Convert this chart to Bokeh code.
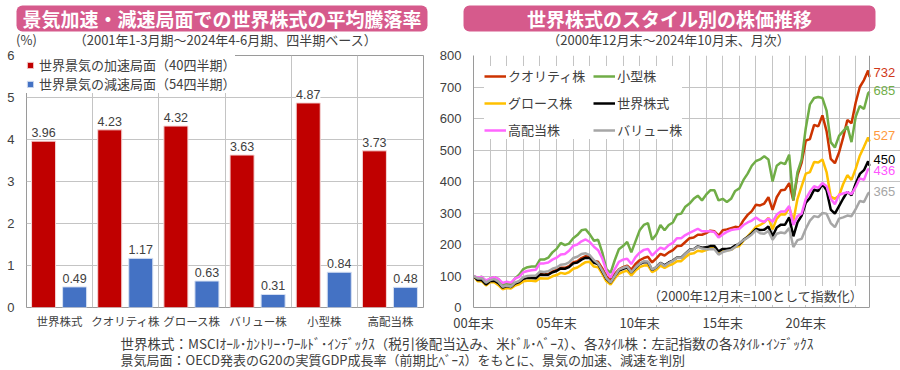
from bokeh.plotting import figure
from bokeh.models import (Range1d, FixedTicker, ColumnDataSource, LabelSet, Label,
                          BoxAnnotation, Legend, LegendItem, Span)
from bokeh.core.properties import value
from bokeh.layouts import row, column
from bokeh.embed import file_html
from bokeh.resources import INLINE

# ---------------- data: left chart ----------------
categories = ["世界株式", "クオリティ株", "グロース株", "バリュー株", "小型株", "高配当株"]
accel = [3.96, 4.23, 4.32, 3.63, 4.87, 3.73]
decel = [0.49, 1.17, 0.63, 0.31, 0.84, 0.48]
accel_name = "世界景気の加速局面（40四半期）"
decel_name = "世界景気の減速局面（54四半期）"

# ---------------- data: right chart (quarter ends, Dec 2000 = 100) ----------------
dates = ["2000-12"] + [f"{y}-{m:02d}" for y in range(2001, 2025) for m in (3, 6, 9, 12)
                       if not (y == 2024 and m == 12)] + ["2024-10"]

quality = [100,
    89, 89, 76, 86,  87, 79, 66, 70,  67, 77, 82, 92,  95, 95, 94, 106,
    105, 106, 114, 119,  126, 126, 131, 143,  147, 157, 163, 162,  148, 145, 124, 99,
    87, 106, 121, 128,  133, 120, 138, 150,  157, 161, 143, 156,  170, 165, 175, 182,
    195, 196, 208, 220,  222, 231, 231, 236,  244, 242, 228, 245,  248, 252, 256, 254,
    277, 294, 306, 326,  324, 330, 350, 310,  350, 372, 374, 395,  340, 420, 460, 530,
    535, 580, 575, 610,  560, 472, 458, 492,  540, 595, 585, 650,  700, 722, 752, 732]
small = [100,
    93, 98, 80, 92,  96, 90, 74, 77,  74, 92, 104, 122,  128, 130, 130, 152,
    152, 158, 175, 186,  205, 198, 203, 220,  230, 245, 248, 232,  212, 215, 175, 122,
    110, 150, 185, 195,  208, 175, 210, 245,  262, 268, 215, 232,  262, 245, 262, 270,
    295, 298, 320, 330,  345, 355, 340, 358,  372, 372, 340, 345,  335, 345, 370, 378,
    405, 425, 450, 465,  470, 480, 470, 400,  450, 460, 455, 485,  340, 430, 470, 570,
    645, 665, 668, 665,  625, 525, 508, 545,  560, 575, 525, 605,  640, 630, 680, 685]
growth = [100,
    83, 84, 70, 80,  80, 71, 58, 62,  60, 70, 74, 83,  85, 85, 83, 93,
    92, 92, 99, 103,  110, 107, 112, 123,  127, 136, 144, 145,  130, 128, 107, 83,
    73, 92, 107, 113,  117, 102, 117, 128,  133, 134, 112, 119,  133, 126, 133, 138,
    147, 147, 159, 170,  172, 180, 178, 182,  188, 189, 175, 184,  182, 183, 192, 195,
    212, 226, 240, 256,  262, 270, 285, 248,  282, 296, 295, 318,  275, 345, 385, 425,
    430, 462, 460, 470,  430, 352, 345, 355,  392, 420, 405, 440,  482, 510, 540, 527]
world = [100,
    87, 87, 73, 84,  85, 77, 63, 68,  65, 76, 81, 91,  94, 94, 93, 105,
    104, 104, 112, 116,  124, 123, 128, 140,  143, 152, 158, 157,  142, 138, 115, 91,
    79, 100, 117, 123,  127, 111, 126, 138,  144, 144, 119, 128,  142, 134, 143, 149,
    159, 158, 171, 183,  185, 194, 190, 191,  195, 195, 178, 186,  186, 188, 197, 201,
    215, 224, 235, 249,  246, 247, 257, 226,  254, 263, 263, 286,  226, 270, 292, 333,
    348, 374, 370, 392,  372, 311, 298, 322,  346, 367, 356, 393,  424, 436, 464, 450]
highdiv = [100,
    95, 97, 86, 92,  96, 91, 78, 82,  79, 92, 97, 112,  116, 118, 120, 140,
    140, 143, 152, 158,  168, 170, 180, 196,  200, 210, 216, 208,  193, 182, 156, 116,
    95, 122, 145, 152,  155, 138, 160, 174,  183, 186, 165, 178,  190, 185, 198, 205,
    220, 220, 230, 237,  243, 250, 242, 242,  242, 240, 222, 232,  240, 246, 248, 250,
    262, 270, 276, 286,  276, 272, 283, 272,  295, 305, 305, 322,  262, 290, 298, 345,
    368, 385, 380, 395,  385, 345, 328, 358,  362, 366, 360, 382,  410, 405, 440, 436]
value_st = [100,
    92, 93, 79, 87,  90, 82, 66, 70,  66, 79, 84, 96,  100, 101, 101, 114,
    113, 115, 123, 127,  136, 137, 143, 157,  161, 170, 172, 166,  150, 140, 118, 93,
    80, 100, 120, 126,  130, 112, 128, 139,  147, 146, 120, 128,  141, 132, 141, 148,
    158, 157, 170, 182,  185, 193, 187, 185,  185, 185, 168, 176,  180, 183, 192, 205,
    214, 222, 232, 245,  236, 234, 243, 215,  234, 238, 236, 252,  192, 214, 218, 250,
    276, 290, 287, 300,  298, 268, 255, 282,  286, 292, 290, 312,  338, 335, 362, 365]

series_names = ["クオリティ株", "小型株", "グロース株", "世界株式", "高配当株", "バリュー株"]
series_values = [quality, small, growth, world, highdiv, value_st]

# ---------------- styles ----------------
JP = "Noto Sans CJK JP"
NUM = "Liberation Sans"
PINK = "#D65A8C"
GRID = "#C4C4C4"
FRAME = "#9A9A9A"
TXT = "#404040"
RED = "#C00000"
BLUE = "#4472C4"
line_colors = ["#CC3300", "#70AD47", "#FFC000", "#000000", "#FF66FF", "#A6A6A6"]
label_colors = ["#D0381A", "#70AD47", "#FF9A3C", "#000000", "#FF55FF", "#A6A6A6"]
label_yoff = [4, 1, 6, 6, 0, 1]


def blank(width, height):
    f = figure(width=width, height=height, x_range=Range1d(0, 1), y_range=Range1d(0, 1),
               output_backend="svg", toolbar_location=None, title=None,
               x_axis_location=None, y_axis_location=None, min_border=0)
    f.outline_line_color = None
    f.grid.visible = False
    return f


def scr_label(p, x, y, text, size="13px", align="center", **kw):
    p.add_layout(Label(x=x, y=y, x_units="screen", y_units="screen", text=text,
                       text_align=align, text_baseline="middle", text_font=JP,
                       text_font_size=size, text_color=kw.pop("color", TXT), **kw))


def header(width, left, right, title, sub_x, subtitle, pct=False):
    h = blank(width, 48)
    h.add_layout(BoxAnnotation(left=left, right=right, bottom=17, top=43,
                               left_units="screen", right_units="screen",
                               bottom_units="screen", top_units="screen",
                               fill_color=PINK, fill_alpha=1.0, line_color=None,
                               border_radius=6))
    scr_label(h, (left + right) / 2, 30, title, size="19px", color="white",
              text_font_style="bold")
    if pct:
        scr_label(h, 26, 9, "(%)")
    scr_label(h, sub_x, 9, subtitle)
    return h


def style_axes(p):
    for ax in (p.xaxis[0], p.yaxis[0]):
        ax.axis_line_color = None
        ax.major_tick_line_color = None
        ax.minor_tick_line_color = None
        ax.major_tick_out = 0
        ax.major_tick_in = 0
        ax.major_label_text_color = TXT
    p.grid.grid_line_color = GRID
    p.grid.grid_line_width = 1


HL = header(435, 16, 427, "景気加速・減速局面での世界株式の平均騰落率", 225,
            "（2001年1-3月期～2024年4-6月期、四半期ベース）", pct=True)
HR = header(465, 28, 440, "世界株式のスタイル別の株価推移", 233,
            "（2000年12月末～2024年10月末、月次）")

# ---------------- left figure ----------------
L = figure(width=435, height=286, x_range=Range1d(0, len(categories)), y_range=Range1d(0, 6),
           output_backend="svg", toolbar_location=None, title=None,
           min_border_left=26, min_border_right=12, min_border_top=7, min_border_bottom=27)
style_axes(L)
L.outline_line_color = FRAME
centers = [i + 0.5 for i in range(len(categories))]
L.xaxis.ticker = FixedTicker(ticks=centers)
L.xaxis.major_label_overrides = {c: n for c, n in zip(centers, categories)}
L.xaxis.major_label_text_font = JP
L.xaxis.major_label_text_font_size = "11.5px"
L.xaxis.major_label_standoff = 5
L.yaxis.ticker = FixedTicker(ticks=list(range(0, 7)))
L.yaxis.major_label_text_font = NUM
L.yaxis.major_label_text_font_size = "13px"
L.yaxis.major_label_standoff = 12
L.xgrid.ticker = FixedTicker(ticks=list(range(1, len(categories))))
L.ygrid.ticker = FixedTicker(ticks=list(range(1, 6)))

bsrc = ColumnDataSource(dict(
    xa=[c - 0.242 for c in centers], xd=[c + 0.227 for c in centers],
    acc=accel, dec=decel,
    acc_t=[f"{v:.2f}" for v in accel], dec_t=[f"{v:.2f}" for v in decel]))
ra = L.vbar(x="xa", top="acc", width=0.363, source=bsrc, fill_color=RED, line_color="#F4D6D6", line_width=1)
rd = L.vbar(x="xd", top="dec", width=0.363, source=bsrc, fill_color=BLUE, line_color="#D6E0F2", line_width=1)
for xf, yf, tf in (("xa", "acc", "acc_t"), ("xd", "dec", "dec_t")):
    L.add_layout(LabelSet(x=xf, y=yf, text=tf, source=bsrc, y_offset=4,
                          text_align="center", text_baseline="bottom",
                          text_font=value(NUM), text_font_size="12.5px", text_color=TXT,
                          background_fill_color="white"))
lleg = Legend(items=[LegendItem(label=accel_name, renderers=[ra]),
                     LegendItem(label=decel_name, renderers=[rd])],
              location="top_left", margin=0, padding=4, spacing=0,
              glyph_width=8, glyph_height=8, label_standoff=5,
              label_text_font=JP, label_text_font_size="13px", label_text_color=TXT,
              background_fill_color="white", background_fill_alpha=1.0, border_line_color=None)
L.add_layout(lleg)

# ---------------- right figure ----------------
xvals = [int(d[:4]) + int(d[5:]) / 12 for d in dates]
x0, xN = xvals[0], xvals[-1]
x_end = x0 + (xN - x0) * 427 / 396   # leave room right of the data for the end labels
R = figure(width=465, height=286, x_range=Range1d(x0, x_end), y_range=Range1d(0, 800),
           output_backend="svg", toolbar_location=None, title=None,
           min_border_left=38, min_border_right=0, min_border_top=7, min_border_bottom=27)
style_axes(R)
R.outline_line_color = None
R.xaxis.axis_line_color = FRAME
R.yaxis.axis_line_color = FRAME
R.xaxis.bounds = (x0, xN)
five = [2001, 2006, 2011, 2016, 2021]
R.xaxis.ticker = FixedTicker(ticks=five)
R.xaxis.major_label_overrides = {t: f"{(t - 1) % 100:02d}年末" for t in five}
R.xaxis.major_label_text_font = JP
R.xaxis.major_label_text_font_size = "13px"
R.xaxis.major_label_standoff = 5
R.yaxis.ticker = FixedTicker(ticks=list(range(0, 801, 100)))
R.yaxis.major_label_text_font = NUM
R.yaxis.major_label_text_font_size = "13px"
R.yaxis.major_label_standoff = 12
R.xgrid.ticker = FixedTicker(ticks=list(range(2002, 2025)))
R.ygrid.ticker = FixedTicker(ticks=list(range(100, 801, 100)))
R.ygrid.bounds = (x0, xN)
R.add_layout(Span(location=xN, dimension="height", line_color=FRAME, line_width=1))

renderers = {}
for name, vals, col in zip(series_names, series_values, line_colors):
    renderers[name] = R.line(xvals, vals, line_color=col, line_width=2.5)

leg_order = ["クオリティ株", "グロース株", "高配当株", "小型株", "世界株式", "バリュー株"]
rleg = Legend(items=[LegendItem(label=n, renderers=[renderers[n]]) for n in leg_order],
              location="top_left", ncols=2, margin=11, padding=12, spacing=8,
              glyph_width=22, glyph_height=14, label_standoff=2,
              label_text_font=JP, label_text_font_size="13px", label_text_color=TXT,
              background_fill_color="white", background_fill_alpha=1.0, border_line_color=None)
R.add_layout(rleg)

esrc = ColumnDataSource(dict(x=[xN] * len(series_values),
                             y=[v[-1] for v in series_values],
                             t=[str(v[-1]) for v in series_values],
                             c=label_colors, yo=label_yoff))
R.add_layout(LabelSet(x="x", y="y", text="t", source=esrc, x_offset=4, y_offset="yo",
                      text_align="left", text_baseline="middle", text_color="c",
                      text_font=value(NUM), text_font_size="13px"))
R.add_layout(Label(x=282, y=12, x_units="screen", y_units="screen",
                   text="（2000年12月末=100として指数化）", text_align="center",
                   text_baseline="middle", text_font=JP, text_font_size="13px",
                   text_color=TXT, background_fill_color="white"))

# ---------------- footnotes ----------------
F = blank(900, 36)
notes = ["世界株式：MSCIｵｰﾙ･ｶﾝﾄﾘｰ･ﾜｰﾙﾄﾞ･ｲﾝﾃﾞｯｸｽ（税引後配当込み、米ﾄﾞﾙ･ﾍﾞｰｽ）、各ｽﾀｲﾙ株：左記指数の各ｽﾀｲﾙ･ｲﾝﾃﾞｯｸｽ",
         "景気局面：OECD発表のG20の実質GDP成長率（前期比ﾍﾞｰｽ）をもとに、景気の加速、減速を判別"]
scr_label(F, 120, 28, notes[0], size="13.5px", align="left")
scr_label(F, 120, 11, notes[1], size="13px", align="left")

layout = column(row(HL, HR), row(L, R), F)
open("out.html", "w").write(file_html(layout, INLINE))
